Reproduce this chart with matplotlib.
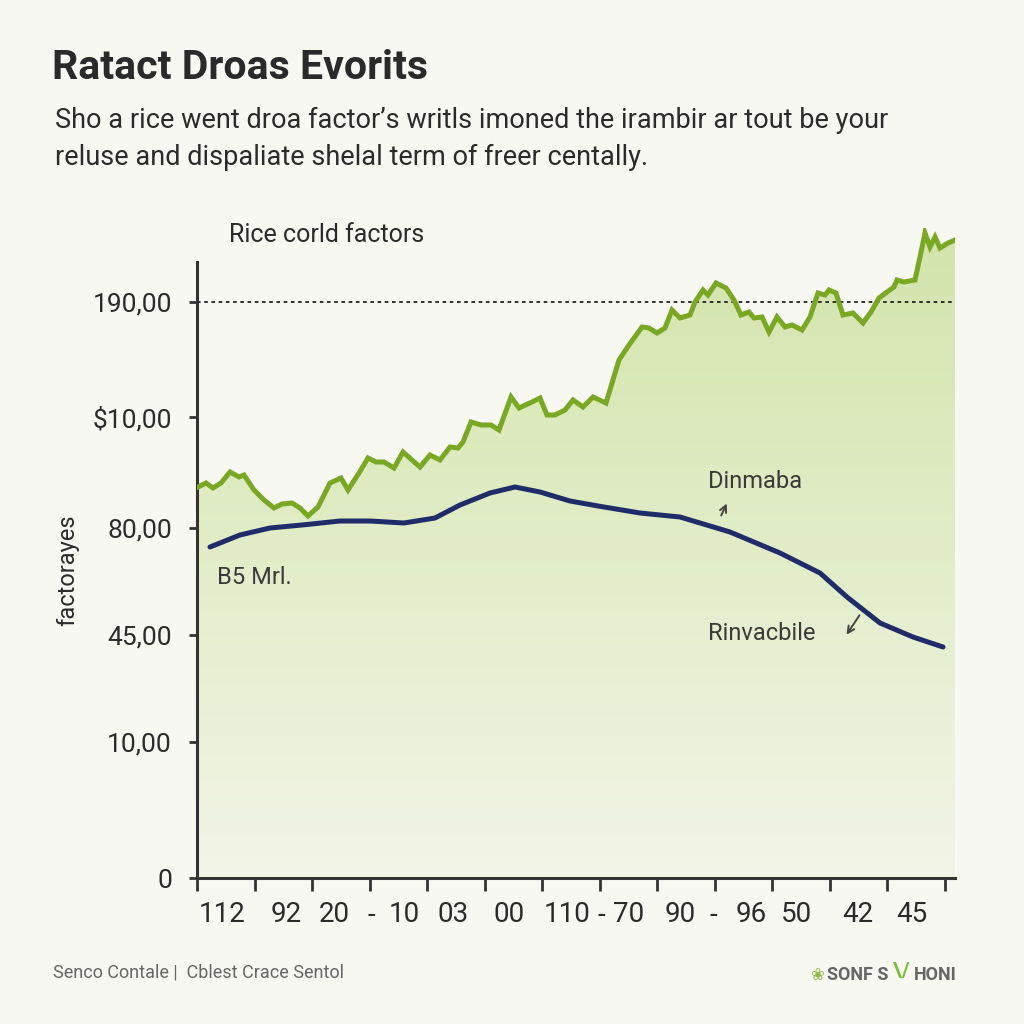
import numpy as np
import matplotlib.pyplot as plt
from matplotlib.colors import LinearSegmentedColormap
from matplotlib.transforms import blended_transform_factory

# green series (x position, level)
gx = [198, 206, 213, 221, 230, 239, 244, 254, 264, 274, 282, 292, 300, 308, 318, 323,
      330, 341, 348, 359, 368, 376, 384, 394, 403, 412, 420, 430, 440, 450, 458, 463,
      471, 481, 491, 499, 511, 519, 532, 540, 547, 555, 565, 573, 583, 593, 606, 619,
      629, 642, 649, 657, 665, 672, 680, 690, 695, 703, 708, 716, 726, 734, 741, 749,
      754, 762, 769, 777, 785, 792, 802, 810, 818, 825, 829, 836, 843, 853, 863, 871,
      879, 887, 894, 897, 904, 915, 920, 925, 930, 935, 940, 948, 955]
gy = [391, 395, 390, 395, 406, 401, 403, 388, 378, 370, 374, 375, 370, 362, 371, 381,
      395, 400, 388, 405, 420, 416, 416, 410, 426, 418, 411, 423, 418, 431, 430, 436,
      456, 453, 453, 448, 481, 470, 476, 480, 463, 463, 468, 478, 471, 481, 475, 518,
      533, 551, 550, 545, 550, 568, 560, 563, 576, 588, 583, 595, 590, 578, 563, 566,
      560, 561, 546, 561, 551, 553, 548, 561, 585, 583, 588, 585, 563, 565, 555, 566,
      580, 586, 591, 598, 596, 598, 621, 645, 631, 641, 630, 635, 638]

# navy series
nx = [210, 240, 270, 302, 340, 370, 404, 435, 460, 490, 515, 540, 570, 598, 640, 680,
      730, 780, 820, 847, 880, 913, 943]
ny = [331, 343, 350, 353, 357, 357, 355, 360, 373, 385, 391, 386, 377, 372, 365, 361,
      346, 325, 305, 281, 255, 241, 231]

ytick_pos = [0, 136, 243, 350, 461, 576]
ytick_lab = ["0", "10,00", "45,00", "80,00", "$10,00", "190,00"]
ref_level = 576

xtick_pos = [197 + 57.5 * k for k in range(14)]
xlab_pos = [222, 286, 334, 371, 404, 453, 509, 567, 601, 629, 680, 713, 751, 797, 858, 912]
xlab_txt = ["112", "92", "20", "-", "10", "03", "00", "110", "-", "70", "90", "-", "96",
            "50", "42", "45"]

bg = "#f7f8f1"
green = "#79a823"
navy = "#1f2c6a"
ink = "#2b2b2b"

plt.rcParams['font.family'] = ['Roboto', 'DejaVu Sans']

fig = plt.figure(figsize=(10.24, 10.24), dpi=100, facecolor=bg)
ax = fig.add_axes([197 / 1024, 146 / 1024, 758 / 1024, 650 / 1024])
ax.set_facecolor(bg)
ax.set_xlim(197, 955)
ax.set_ylim(0, 650)

# gradient fill under the green line
poly = ax.fill_between(gx, gy, 0, color="none", lw=0)
cmap = LinearSegmentedColormap.from_list("g", ["#f3f5e8", "#e2edc8", "#d3e4ab"])
grad = np.linspace(0, 1, 256).reshape(-1, 1)
im = ax.imshow(grad, extent=[197, 955, 0, 650], origin="lower", aspect="auto",
               cmap=cmap, zorder=1)
im.set_clip_path(poly.get_paths()[0], transform=ax.transData)

ax.axhline(ref_level, color="#222222", lw=1.3, ls=(0, (2, 2)), zorder=2)
ax.plot(gx, gy, color=green, lw=3.6, solid_joinstyle="miter", zorder=3)
ax.plot(nx, ny, color=navy, lw=3.6, solid_capstyle="round",
        solid_joinstyle="round", zorder=4)

for s in ["top", "right"]:
    ax.spines[s].set_visible(False)
for s in ["left", "bottom"]:
    ax.spines[s].set_color("#333333")
    ax.spines[s].set_linewidth(2.2)
ax.spines["left"].set_bounds(0, 616)

ax.set_yticks(ytick_pos)
ax.set_yticklabels(ytick_lab, fontsize=19, color=ink)
ax.tick_params(axis="y", length=6, width=2, color="#333333", pad=12)
ax.set_xticks(xtick_pos)
ax.set_xticklabels([])
ax.tick_params(axis="x", length=9, width=2, color="#333333")

tr = blended_transform_factory(ax.transData, ax.transAxes)
for xp, t in zip(xlab_pos, xlab_txt):
    ax.text(xp, -37 / 650, t, transform=tr, ha="center", va="center",
            fontsize=20, color=ink)

fig.text(68 / 1024, 1 - 570 / 1024, "factorayes", rotation=90, ha="center",
         va="center", fontsize=17, color=ink)

# titles
fig.text(52 / 1024, 1 - 68 / 1024, "Ratact Droas Evorits", fontsize=29.5,
         fontweight="bold", color="#2a2a2a", va="center")
fig.text(55 / 1024, 1 - 120 / 1024,
         "Sho a rice went droa factor\u2019s writls imoned the irambir ar tout be your",
         fontsize=19.5, color=ink, va="center")
fig.text(55 / 1024, 1 - 157 / 1024,
         "reluse and dispaliate shelal term of freer centally.",
         fontsize=19.5, color=ink, va="center")
fig.text(229 / 1024, 1 - 235 / 1024, "Rice corld factors", fontsize=18,
         color=ink, va="center")

# annotations
ax.text(217, 878 - 578, "B5 Mrl.", fontsize=17, color="#3a3a3a", va="center", zorder=5)
ax.text(708, 878 - 481, "Dinmaba", fontsize=17, color="#3a3a3a", va="center", zorder=5)
ax.annotate("", xy=(728, 878 - 501), xytext=(720, 878 - 518),
            arrowprops=dict(arrowstyle="->", color="#444444", lw=1.4,
                            mutation_scale=12))
ax.text(708, 878 - 633, "Rinvacbile", fontsize=17, color="#3a3a3a", va="center", zorder=5)
ax.annotate("", xy=(845, 878 - 637), xytext=(861, 878 - 613),
            arrowprops=dict(arrowstyle="->", color="#444444", lw=1.4,
                            mutation_scale=12))

# footer
fig.text(53 / 1024, 1 - 973 / 1024, "Senco Contale |  Cblest Crace Sentol",
         fontsize=13, color="#666666", va="center")
fig.text(810 / 1024, 1 - 975 / 1024, "\u2740", fontsize=12, color="#8fbf4a",
         va="center", family=['DejaVu Sans'])
fig.text(827 / 1024, 1 - 975 / 1024, "SONF S", fontsize=13, color="#666666",
         va="center", fontweight="bold")
fig.text(893 / 1024, 1 - 971 / 1024, "\\/", fontsize=15, color="#7fbf3a",
         va="center", fontweight="bold")
fig.text(914 / 1024, 1 - 975 / 1024, "HONI", fontsize=13, color="#666666",
         va="center", fontweight="bold")

fig.savefig("out.png", dpi=100, facecolor=bg)
